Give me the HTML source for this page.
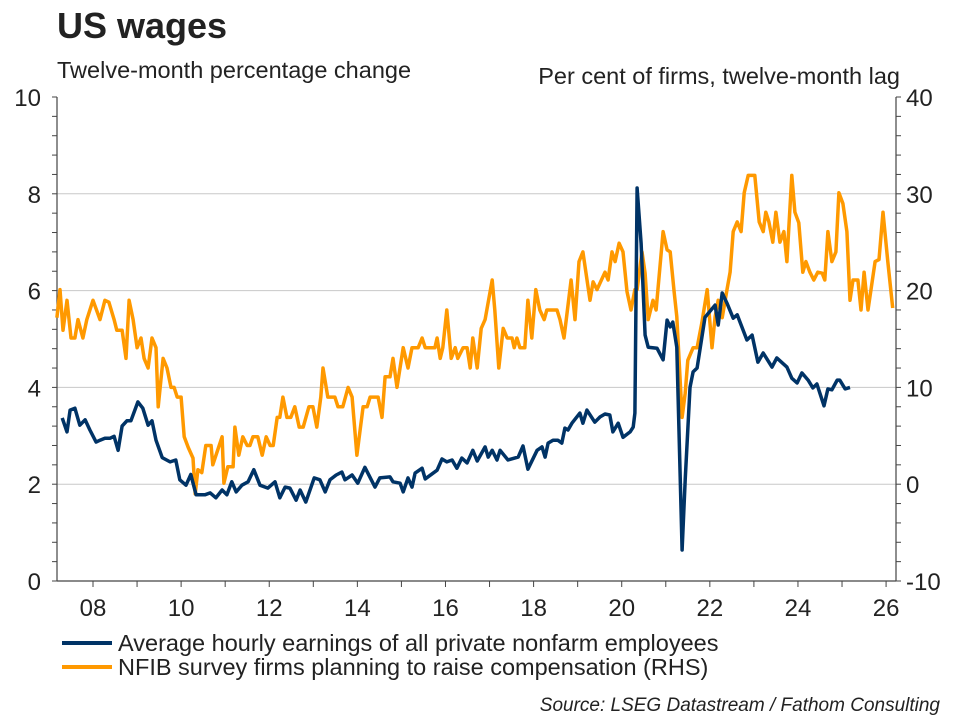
<!DOCTYPE html>
<html><head><meta charset="utf-8"><style>
body{margin:0;background:#fff;font-family:"Liberation Sans",sans-serif;}
svg text{font-family:"Liberation Sans",sans-serif;fill:#222;}
</style></head><body>
<svg id="c" width="960" height="720">
<text x="57" y="38" font-size="36" font-weight="bold">US wages</text>
<text x="57" y="78" font-size="23.5">Twelve-month percentage change</text>
<text x="900" y="84" font-size="23.5" text-anchor="end">Per cent of firms, twelve-month lag</text>
<g id="grid"></g>
<g id="axes"></g>
<g id="series"></g>
<g>
<line x1="62" y1="643" x2="112" y2="643" stroke="#003366" stroke-width="4"/>
<text x="118" y="651" font-size="23.5">Average hourly earnings of all private nonfarm employees</text>
<line x1="62" y1="667" x2="112" y2="667" stroke="#FF9900" stroke-width="4"/>
<text x="118" y="675" font-size="23.5">NFIB survey firms planning to raise compensation (RHS)</text>
</g>
<text x="940" y="711" font-size="19" font-style="italic" text-anchor="end">Source: LSEG Datastream / Fathom Consulting</text>
</svg>
<script>
const aheDates=[2007.30,2007.41,2007.48,2007.59,2007.70,2007.82,2007.93,2008.07,2008.16,2008.27,2008.39,2008.48,2008.57,2008.66,2008.77,2008.86,2009.02,2009.13,2009.25,2009.34,2009.43,2009.57,2009.75,2009.88,2009.97,2010.11,2010.22,2010.34,2010.54,2010.66,2010.79,2010.93,2011.04,2011.15,2011.25,2011.38,2011.52,2011.65,2011.79,2011.97,2012.13,2012.24,2012.36,2012.47,2012.61,2012.70,2012.83,2013.02,2013.15,2013.27,2013.38,2013.52,2013.65,2013.72,2013.88,2014.01,2014.17,2014.40,2014.51,2014.74,2014.81,2014.97,2015.04,2015.15,2015.24,2015.31,2015.47,2015.54,2015.81,2015.92,2016.03,2016.15,2016.26,2016.37,2016.49,2016.62,2016.72,2016.90,2016.97,2017.06,2017.17,2017.24,2017.42,2017.65,2017.76,2017.87,2018.08,2018.19,2018.26,2018.33,2018.44,2018.55,2018.64,2018.71,2018.78,2018.87,2019.05,2019.12,2019.21,2019.39,2019.51,2019.62,2019.73,2019.80,2019.92,2020.03,2020.19,2020.26,2020.30,2020.35,2020.44,2020.53,2020.60,2020.80,2020.94,2021.03,2021.10,2021.16,2021.25,2021.37,2021.44,2021.55,2021.62,2021.71,2021.89,2022.12,2022.19,2022.28,2022.39,2022.53,2022.62,2022.84,2022.96,2023.09,2023.21,2023.41,2023.52,2023.75,2023.86,2023.98,2024.09,2024.23,2024.34,2024.43,2024.59,2024.68,2024.77,2024.89,2024.95,2025.07,2025.18];
const aheValues=[3.37,3.08,3.53,3.57,3.22,3.33,3.12,2.87,2.91,2.95,2.95,2.99,2.70,3.20,3.31,3.31,3.70,3.57,3.22,3.31,2.91,2.55,2.46,2.50,2.09,1.98,2.20,1.78,1.78,1.82,1.72,1.88,1.78,2.05,1.84,1.98,2.05,2.30,1.98,1.92,2.05,1.72,1.94,1.92,1.67,1.88,1.63,2.13,2.09,1.84,2.09,2.19,2.25,2.09,2.19,2.02,2.35,1.94,2.13,2.15,2.05,2.02,1.84,2.13,1.94,2.23,2.33,2.11,2.29,2.52,2.46,2.50,2.33,2.54,2.44,2.70,2.48,2.77,2.56,2.70,2.50,2.70,2.50,2.56,2.79,2.31,2.70,2.77,2.56,2.85,2.91,2.91,2.85,3.16,3.12,3.26,3.47,3.26,3.53,3.28,3.39,3.45,3.43,3.08,3.26,2.97,3.08,3.18,3.47,8.12,6.98,5.08,4.83,4.81,4.57,5.39,5.25,5.35,4.83,0.64,2.09,4.00,4.32,4.40,5.45,5.70,5.29,5.95,5.74,5.43,5.50,4.98,5.08,4.52,4.71,4.42,4.61,4.42,4.19,4.09,4.30,4.15,3.99,4.07,3.62,3.97,3.95,4.15,4.15,3.97,4.00];
const nfibDates=[2007.18,2007.25,2007.32,2007.41,2007.50,2007.59,2007.66,2007.77,2007.86,2008.00,2008.16,2008.27,2008.36,2008.48,2008.54,2008.66,2008.75,2008.82,2008.91,2009.00,2009.09,2009.16,2009.25,2009.34,2009.43,2009.48,2009.59,2009.68,2009.77,2009.84,2009.91,2010.00,2010.07,2010.16,2010.27,2010.32,2010.38,2010.47,2010.56,2010.68,2010.72,2010.93,2010.97,2011.06,2011.18,2011.22,2011.31,2011.40,2011.50,2011.56,2011.63,2011.74,2011.84,2011.93,2012.02,2012.09,2012.18,2012.24,2012.31,2012.40,2012.49,2012.58,2012.68,2012.77,2012.90,2012.99,2013.08,2013.17,2013.22,2013.33,2013.49,2013.56,2013.67,2013.79,2013.88,2013.99,2014.13,2014.22,2014.29,2014.33,2014.47,2014.56,2014.63,2014.74,2014.81,2014.90,2015.04,2015.15,2015.24,2015.38,2015.47,2015.54,2015.76,2015.81,2015.88,2015.94,2016.03,2016.13,2016.22,2016.28,2016.40,2016.49,2016.56,2016.62,2016.72,2016.81,2016.90,2017.06,2017.12,2017.21,2017.31,2017.40,2017.51,2017.56,2017.62,2017.69,2017.80,2017.87,2017.96,2018.05,2018.14,2018.24,2018.30,2018.53,2018.60,2018.69,2018.85,2018.94,2019.03,2019.12,2019.28,2019.35,2019.44,2019.62,2019.69,2019.78,2019.85,2019.94,2020.03,2020.12,2020.21,2020.30,2020.35,2020.46,2020.53,2020.60,2020.71,2020.78,2020.94,2021.03,2021.10,2021.19,2021.25,2021.37,2021.44,2021.50,2021.62,2021.71,2021.82,2021.94,2022.05,2022.12,2022.19,2022.28,2022.39,2022.46,2022.53,2022.62,2022.71,2022.78,2022.87,2023.02,2023.12,2023.21,2023.27,2023.34,2023.43,2023.50,2023.59,2023.68,2023.75,2023.86,2023.93,2024.02,2024.11,2024.18,2024.27,2024.36,2024.45,2024.55,2024.61,2024.68,2024.77,2024.86,2024.93,2025.02,2025.11,2025.18,2025.25,2025.36,2025.43,2025.50,2025.59,2025.75,2025.84,2025.93,2026.04,2026.15];
const nfibValues=[17.2,20.1,15.9,19.0,15.1,15.1,17.0,15.1,17.0,19.0,17.0,19.0,18.8,17.0,15.9,15.9,13.0,19.0,17.0,14.1,15.1,13.0,12.0,15.1,14.1,8.0,13.0,12.0,10.0,10.0,9.0,9.0,4.9,3.8,2.7,-1.0,1.5,1.2,4.0,4.0,2.0,4.9,0.1,1.8,1.8,5.9,3.0,4.9,4.0,4.0,4.9,4.9,3.0,4.9,4.0,4.0,6.9,6.9,9.0,6.9,6.9,8.0,5.9,5.9,8.0,8.0,5.9,9.0,12.0,9.0,9.0,8.0,8.0,10.0,9.0,3.0,8.0,8.0,9.0,9.0,9.0,6.9,11.1,11.1,13.0,10.0,14.1,12.0,14.1,14.1,15.1,14.1,14.1,15.1,13.0,14.1,18.0,13.0,14.1,13.0,14.1,14.1,12.0,15.1,12.0,16.1,17.0,21.1,18.0,12.0,16.1,15.1,15.1,14.1,15.1,14.1,14.1,19.0,15.1,20.1,18.0,17.0,18.0,18.0,17.0,15.1,21.1,17.0,23.0,24.0,19.0,20.9,20.1,21.9,21.1,24.0,23.0,24.9,24.0,19.9,18.0,20.1,20.1,24.0,21.8,17.0,19.0,18.0,26.1,24.2,24.0,19.8,17.3,6.9,9.4,12.8,14.1,14.1,16.7,20.1,14.1,17.3,19.0,17.2,20.1,21.9,26.1,27.1,26.1,30.1,31.9,31.9,27.1,26.1,28.1,27.1,25.0,28.1,25.0,26.1,23.0,31.9,28.1,27.0,21.9,23.0,21.9,21.1,21.9,21.8,21.1,26.1,23.0,24.0,30.1,29.0,26.1,19.0,21.1,21.1,18.0,21.9,18.0,23.0,23.2,28.1,23.0,18.2];
const leftTicks=[0,2,4,6,8,10];
const rightTicks=[-10,0,10,20,30,40];
const yearTicks=[2008,2010,2012,2014,2016,2018,2020,2022,2024,2026];
const yearLabels=["08","10","12","14","16","18","20","22","24","26"];

const NS="http://www.w3.org/2000/svg";
const X0=57,X1=896,Y0=581,Y1=97;
const xs=d=>93+(d-2008)*44.06;
const yl=v=>Y0-(v-0)/10*(Y0-Y1);
const yr=v=>Y0-(v+10)/50*(Y0-Y1);
function mk(tag,attrs,parent){const e=document.createElementNS(NS,tag);for(const k in attrs)e.setAttribute(k,attrs[k]);parent.appendChild(e);return e;}
const grid=document.getElementById('grid'),axes=document.getElementById('axes'),ser=document.getElementById('series');
leftTicks.forEach(v=>{
  if(v>0&&v<10){const g=mk('line',{x1:X0,x2:X1,y1:yl(v),y2:yl(v),stroke:'#c8c8c8','stroke-width':1},grid);
  
  }
  const t=mk('text',{x:41,y:yl(v)+9,'font-size':24,'text-anchor':'end'},axes);t.textContent=v;
  
  
});
rightTicks.forEach(v=>{
  const t=mk('text',{x:906,y:yr(v)+9,'font-size':24},axes);t.textContent=v;
  
  
});
for(let i=0;i<=25;i++){const y=Y0-i*(Y0-Y1)/25;
  mk('line',{x1:X0-5,x2:X0,y1:y,y2:y,stroke:'#444','stroke-width':1},axes);
  mk('line',{x1:X1,x2:X1+5,y1:y,y2:y,stroke:'#444','stroke-width':1},axes);}
mk('line',{x1:X0,x2:X0,y1:Y1,y2:Y0,stroke:'#444','stroke-width':1.2},axes);
mk('line',{x1:X1,x2:X1,y1:Y1,y2:Y0,stroke:'#444','stroke-width':1.2},axes);
mk('line',{x1:X0,x2:X1,y1:Y0,y2:Y0,stroke:'#444','stroke-width':1.2},axes);
for(let yv=2007;yv<=2026;yv++){const x=xs(yv);if(x>=X0&&x<=X1)mk('line',{x1:x,x2:x,y1:Y0,y2:Y0+6,stroke:'#444','stroke-width':1},axes);}
yearTicks.forEach((yv,i)=>{const t=mk('text',{x:xs(yv),y:616,'font-size':24,'text-anchor':'middle'},axes);t.textContent=yearLabels[i];
  
  });
const pN=mk('polyline',{points:nfibDates.map((d,i)=>xs(d).toFixed(1)+','+yr(nfibValues[i]).toFixed(1)).join(' '),fill:'none',stroke:'#FF9900','stroke-width':3.5,'stroke-linejoin':'round'},ser);


const pA=mk('polyline',{points:aheDates.map((d,i)=>xs(d).toFixed(1)+','+yl(aheValues[i]).toFixed(1)).join(' '),fill:'none',stroke:'#003366','stroke-width':3.5,'stroke-linejoin':'round'},ser);


</script>
</body></html>
